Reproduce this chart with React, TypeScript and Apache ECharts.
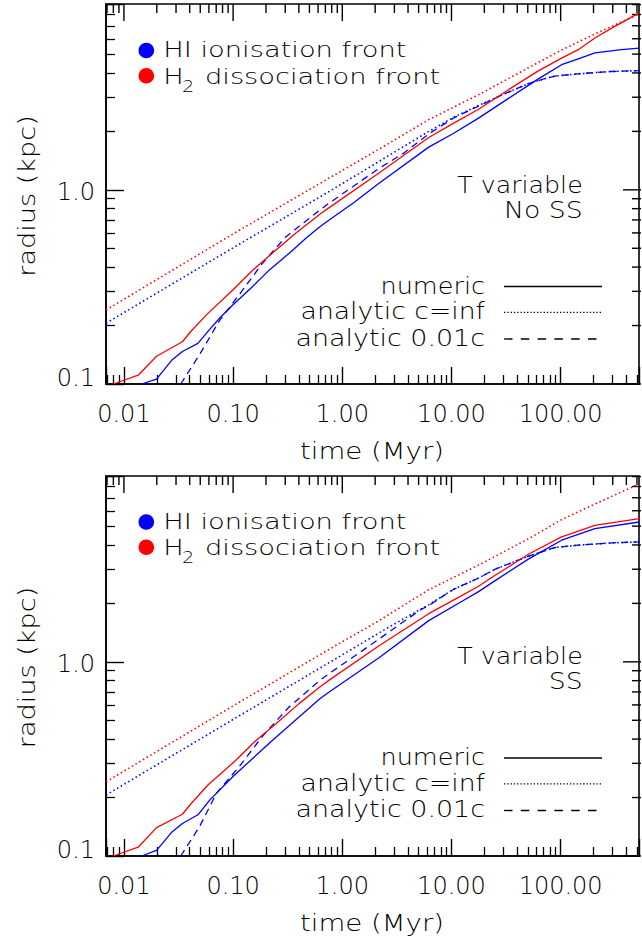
import { useEffect, useRef } from 'react';
import * as echarts from 'echarts';

// ---------- axis ranges & tick labels ----------
const X_MIN = 0.00685;
const X_MAX = 522;
const Y_MIN = 0.1;
const Y_MAX = 9.06;

const X_MAJOR = [0.01, 0.1, 1, 10, 100];
const X_MAJOR_LABELS = ['0.01', '0.10', '1.00', '10.00', '100.00'];
const X_MINOR = [
  0.007, 0.008, 0.009,
  0.02, 0.03, 0.04, 0.05, 0.06, 0.07, 0.08, 0.09,
  0.2, 0.3, 0.4, 0.5, 0.6, 0.7, 0.8, 0.9,
  2, 3, 4, 5, 6, 7, 8, 9,
  20, 30, 40, 50, 60, 70, 80, 90,
  200, 300, 400, 500,
];
const Y_MAJOR = [0.1, 1];
const Y_MAJOR_LABELS = ['0.1', '1.0'];
const Y_MINOR = [0.2, 0.3, 0.4, 0.5, 0.6, 0.7, 0.8, 0.9, 2, 3, 4, 5, 6, 7, 8, 9];

// ---------- top panel: T variable, No SS ----------
const TOP_HI_NUMERIC = [
  [0.0145, 0.1], [0.0199, 0.106], [0.0272, 0.132], [0.0343, 0.147], [0.0476, 0.162],
  [0.061, 0.191], [0.075, 0.218], [0.0993, 0.255], [0.151, 0.318], [0.215, 0.387],
  [0.327, 0.472], [0.464, 0.563], [0.627, 0.647], [0.758, 0.7], [1.28, 0.86],
  [2.17, 1.08], [6.19, 1.66], [10.4, 1.95], [17.7, 2.34], [33, 2.95], [50.6, 3.45],
  [62.5, 3.73], [102, 4.41], [145, 4.73], [206, 5.07], [360, 5.27], [525, 5.37],
];
const TOP_H2_NUMERIC = [
  [0.008, 0.1], [0.0135, 0.111], [0.0199, 0.139], [0.0343, 0.165], [0.0415, 0.188],
  [0.0588, 0.231], [0.0994, 0.305], [0.151, 0.385], [0.247, 0.49], [0.376, 0.6],
  [0.627, 0.75], [0.758, 0.81], [2.17, 1.22], [6.19, 1.86], [10.4, 2.2], [17.7, 2.6],
  [33.3, 3.28], [62.5, 4.1], [102, 4.77], [145, 5.27], [206, 6.05], [313, 6.95], [525, 8.15],
];
const TOP_HI_CINF = [
  [0.00685, 0.2055], [0.1, 0.503], [0.758, 0.98], [2.17, 1.4], [6.19, 2.0], [10.4, 2.36],
  [17.7, 2.72], [31.7, 3.15], [50.6, 3.52], [74, 3.76], [88.7, 3.85], [145, 3.96],
  [291, 4.07], [525, 4.11],
];
const TOP_H2_CINF = [
  [0.00685, 0.2405], [0.1, 0.593], [0.758, 1.15], [2.17, 1.62], [6.19, 2.3], [17.7, 3.09],
  [50.6, 4.25], [102, 5.25], [206, 6.35], [475, 7.85], [525, 8.1],
];
const TOP_HI_001C = [
  [0.0331, 0.1], [0.0494, 0.142], [0.075, 0.212], [0.1144, 0.29], [0.1866, 0.42],
  [0.305, 0.574], [0.627, 0.789], [0.758, 0.854], [2.17, 1.29], [3.65, 1.545], [6.19, 1.94],
  [10.4, 2.34], [17.7, 2.7], [31.7, 3.15], [50.6, 3.52], [74, 3.76], [88.7, 3.85],
  [145, 3.96], [291, 4.07], [525, 4.11],
];

// ---------- bottom panel: T variable, SS ----------
const BOT_HI_NUMERIC = [
  [0.0145, 0.1], [0.0199, 0.107], [0.0272, 0.132], [0.0343, 0.147], [0.0476, 0.163],
  [0.061, 0.194], [0.0993, 0.256], [0.151, 0.318], [0.23, 0.395], [0.404, 0.521],
  [0.627, 0.648], [0.758, 0.7], [2.17, 1.05], [6.19, 1.63], [12.5, 2.05], [17.7, 2.3],
  [25.1, 2.62], [50.6, 3.38], [102, 4.23], [206, 4.86], [525, 5.25],
];
const BOT_H2_NUMERIC = [
  [0.008, 0.1], [0.0135, 0.111], [0.0199, 0.14], [0.0343, 0.164], [0.0415, 0.187],
  [0.0588, 0.232], [0.1066, 0.312], [0.157, 0.388], [0.247, 0.48], [0.404, 0.611],
  [0.627, 0.745], [0.758, 0.805], [2.17, 1.21], [6.19, 1.77], [12.5, 2.2], [17.7, 2.45],
  [25.1, 2.79], [50.6, 3.58], [102, 4.4], [206, 5.05], [525, 5.47],
];
const BOT_HI_CINF = [
  [0.00685, 0.206], [0.1, 0.505], [0.758, 0.99], [2.57, 1.49], [6.19, 1.97], [10.4, 2.36],
  [17.7, 2.7], [25.1, 3.0], [50.6, 3.5], [88.7, 3.88], [145, 3.99], [300, 4.1], [525, 4.15],
];
const BOT_H2_CINF = [
  [0.00685, 0.241], [0.1, 0.593], [0.758, 1.16], [2.17, 1.63], [6.19, 2.35], [17.7, 3.15],
  [50.6, 4.3], [102, 5.4], [206, 6.5], [525, 8.25],
];
const BOT_HI_001C = [
  [0.0331, 0.1], [0.0494, 0.142], [0.0702, 0.21], [0.1144, 0.29], [0.1866, 0.415],
  [0.327, 0.587], [0.627, 0.805], [0.758, 0.87], [1.81, 1.22], [5.18, 1.85], [6.19, 1.95],
  [10.4, 2.36], [17.7, 2.7], [25.1, 3.0], [50.6, 3.5], [88.7, 3.88], [145, 3.99],
  [300, 4.1], [525, 4.15],
];

// ---------- texts ----------
const LEGEND_FRONTS = ['HI ionisation front', 'H', '2', 'dissociation front'];
const LEGEND_STYLES = ['numeric', 'analytic c=inf', 'analytic 0.01c'];
const PANEL_NOTES = [['T variable', 'No SS'], ['T variable', 'SS']];
const X_TITLE = 'time (Myr)';
const Y_TITLE = 'radius (kpc)';

const PANELS = [
  { hiNum: TOP_HI_NUMERIC, h2Num: TOP_H2_NUMERIC, hiInf: TOP_HI_CINF, h2Inf: TOP_H2_CINF, hi001: TOP_HI_001C, notes: PANEL_NOTES[0] },
  { hiNum: BOT_HI_NUMERIC, h2Num: BOT_H2_NUMERIC, hiInf: BOT_HI_CINF, h2Inf: BOT_H2_CINF, hi001: BOT_HI_001C, notes: PANEL_NOTES[1] },
];

// ---------- style ----------
const FONT = '"DejaVu Sans", sans-serif';
const WEIGHT = 200;
const INK = '#000000';
const BLUE = '#0000ff';
const RED = '#ff0000';
const GRID_LEFT = 106;
const GRID_W = 535;
const GRID_H = 380;
const GRID_TOPS = [4, 476];
const PANEL_DY = [0, 471.5];
const DOTTED = [1.5, 2.8];
const DASHED = [7, 5];

function findLabel(v: number, ticks: number[], labels: string[]) {
  const i = ticks.findIndex((t) => Math.abs(Math.log10(t) - Math.log10(v)) < 1e-6);
  return i >= 0 ? labels[i] : '';
}

function logAxis(g: number, position: string, lo: number, hi: number, majorLen: number, label: any) {
  return {
    type: 'log',
    gridIndex: g,
    position,
    min: lo,
    max: hi,
    axisLine: { show: true, onZero: false, lineStyle: { color: INK, width: 1.6 } },
    axisTick: { show: true, inside: true, length: majorLen, lineStyle: { color: INK, width: 1.4 } },
    minorTick: { show: true, splitNumber: 9, length: 9, lineStyle: { color: INK, width: 1.3 } },
    axisLabel: label,
    splitLine: { show: false },
    minorSplitLine: { show: false },
  };
}

function text(t: string, x: number, y: number, size: number, scaleX: number, align: string, extra: any = {}) {
  return {
    type: 'text', x, y, scaleX, silent: true, ...extra,
    style: { text: t, fontSize: size, fontFamily: FONT, fontWeight: WEIGHT, fill: INK, align, verticalAlign: 'middle' },
  };
}

function seg(x1: number, y1: number, x2: number, y2: number) {
  return { type: 'line', silent: true, shape: { x1, y1, x2, y2 }, style: { stroke: INK, lineWidth: 1.4 } };
}

function buildOption() {
  const grid = GRID_TOPS.map((top) => ({
    left: GRID_LEFT, top, width: GRID_W, height: GRID_H,
    show: true, borderColor: INK, borderWidth: 1.6, backgroundColor: 'transparent',
  }));
  const xAxis: any[] = [];
  const yAxis: any[] = [];
  const series: any[] = [];
  const elements: any[] = [];

  const xLabel = {
    show: true, margin: 18, fontSize: 24, fontFamily: FONT, fontWeight: WEIGHT, color: INK,
    formatter: (v: number) => findLabel(v, X_MAJOR, X_MAJOR_LABELS),
  };
  const yLabel = {
    show: true, margin: 11, fontSize: 24, fontFamily: FONT, fontWeight: WEIGHT, color: INK,
    formatter: (v: number) => {
      const s = findLabel(v, Y_MAJOR, Y_MAJOR_LABELS);
      if (!s) return '';
      return Math.abs(Math.log10(v) - Math.log10(Y_MIN)) < 1e-6 ? `{lo|${s}}` : `{hi|${s}}`;
    },
    rich: {
      lo: { fontSize: 24, fontFamily: FONT, fontWeight: WEIGHT, color: INK, padding: [0, 0, 12, 0] },
      hi: { fontSize: 24, fontFamily: FONT, fontWeight: WEIGHT, color: INK, padding: [5, 0, 0, 0] },
    },
  };

  PANELS.forEach((p, g) => {
    xAxis.push(logAxis(g, 'bottom', X_MIN, X_MAX, 17, xLabel));
    yAxis.push(logAxis(g, 'left', Y_MIN, Y_MAX, 18, yLabel));

    const mk = (data: number[][], color: string, type: any, width: number, z: number) => ({
      type: 'line', xAxisIndex: g, yAxisIndex: g, data, symbol: 'none', showSymbol: false,
      silent: true, clip: true, z, lineStyle: { color, width, type, cap: 'butt' },
    });
    series.push(mk(p.h2Inf, RED, DOTTED, 1.6, 2));
    series.push(mk(p.hiInf, BLUE, DOTTED, 1.6, 2));
    series.push(mk(p.hi001, BLUE, DASHED, 1.3, 3));
    series.push(mk(p.h2Num, RED, 'solid', 1.3, 4));
    series.push(mk(p.hiNum, BLUE, 'solid', 1.3, 5));

    const dy = PANEL_DY[g];
    // colour legend
    elements.push({ type: 'circle', silent: true, shape: { cx: 146.3, cy: 50.5 + dy, r: 7.8 }, style: { fill: BLUE } });
    elements.push({ type: 'circle', silent: true, shape: { cx: 146.3, cy: 75.8 + dy, r: 7.8 }, style: { fill: RED } });
    elements.push(text(LEGEND_FRONTS[0], 163.3, 50 + dy, 21, 1.3, 'left'));
    elements.push(text(LEGEND_FRONTS[1], 163.3, 76.3 + dy, 21, 1.3, 'left'));
    elements.push(text(LEGEND_FRONTS[2], 182, 86.5 + dy, 16, 1.2, 'left'));
    elements.push(text(LEGEND_FRONTS[3], 205, 76.3 + dy, 21, 1.3, 'left'));
    // panel notes
    elements.push(text(p.notes[0], 582.7, 185.3 + dy, 23, 1.1, 'right'));
    elements.push(text(p.notes[1], 582.7, 210 + dy, 23, 1.16, 'right'));
    // line-style legend
    const ly = [286.5, 312.3, 339];
    const lscale = [1.11, 1.16, 1.17];
    const dash: any[] = [null, [1.3, 2], [8.5, 8.3]];
    const ends = [602, 601, 598];
    LEGEND_STYLES.forEach((s, i) => {
      elements.push(text(s, 485, ly[i] - 1 + dy, 23, lscale[i], 'right'));
      elements.push({
        type: 'line', silent: true,
        shape: { x1: 504, y1: ly[i] + dy, x2: ends[i], y2: ly[i] + dy },
        style: { stroke: INK, lineWidth: 1.3, lineDash: dash[i] || undefined },
      });
    });
    // axis titles
    elements.push(text(X_TITLE, 372, 451 + dy, 23, 1.2, 'center'));
    elements.push(text(Y_TITLE, 27, 196 + dy, 23, 1.18, 'center', { rotation: Math.PI / 2 }));
  });

  return { animation: false, backgroundColor: '#ffffff', grid, xAxis, yAxis, series, graphic: { elements } };
}

// top and right ticks, placed through the same log axes
function mirrorTicks(chart: any) {
  const out: any[] = [];
  PANELS.forEach((_p, g) => {
    const top = GRID_TOPS[g];
    const right = GRID_LEFT + GRID_W;
    const addX = (vals: number[], len: number) => vals.forEach((v) => {
      const x = chart.convertToPixel({ xAxisIndex: g }, v);
      if (typeof x === 'number' && isFinite(x)) out.push(seg(x, top, x, top + len));
    });
    const addY = (vals: number[], len: number) => vals.forEach((v) => {
      const y = chart.convertToPixel({ yAxisIndex: g }, v);
      if (typeof y === 'number' && isFinite(y)) out.push(seg(right, y, right - len, y));
    });
    addX(X_MAJOR, 17);
    addX(X_MINOR, 9);
    addY(Y_MAJOR, 18);
    addY(Y_MINOR, 9);
  });
  return out;
}

export default function App() {
  const ref = useRef<HTMLDivElement>(null);
  useEffect(() => {
    document.body.style.margin = '0';
    const chart = echarts.init(ref.current as HTMLDivElement, null, { renderer: 'svg' });
    const option: any = buildOption();
    chart.setOption(option);
    try {
      const extra = mirrorTicks(chart);
      chart.setOption({ graphic: { elements: [...option.graphic.elements, ...extra] } } as any);
    } catch (e) {
      // keep the chart without mirrored ticks
    }
    return () => chart.dispose();
  }, []);
  return <div ref={ref} style={{ width: 642, height: 940 }} />;
}
